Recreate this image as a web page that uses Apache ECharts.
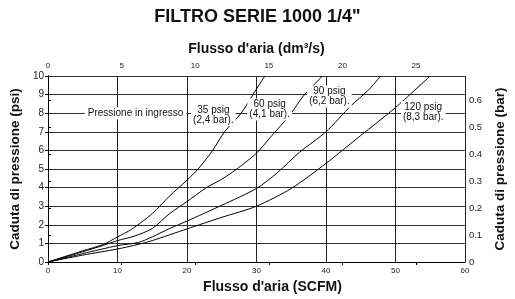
<!DOCTYPE html>
<html>
<head>
<meta charset="utf-8">
<script src="https://cdn.jsdelivr.net/npm/echarts@6/dist/echarts.min.js"></script>
<style>
  html, body { margin: 0; padding: 0; background: #fff; }
  #chart { width: 515px; height: 299px; }
</style>
</head>
<body>
<div id="chart"></div>
<script>
// curve data: flow (SCFM) vs pressure drop (psi)
const flow35 = [0, 5, 8, 10, 12, 15, 17.5, 20, 21.6, 23.7, 25.4, 27.8, 29.5, 31.2];
const drop35 = [0, 0.6, 0.95, 1.35, 1.75, 2.6, 3.55, 4.4, 5, 6, 7, 8, 9, 10];

const flow60 = [0, 5, 8, 10, 12.5, 15, 17.5, 20, 22.8, 25, 27, 30, 32, 34.8, 36.7, 39.5];
const drop60 = [0, 0.55, 0.9, 1.15, 1.4, 1.8, 2.6, 3.25, 4, 4.45, 4.95, 5.85, 6.7, 7.9, 8.9, 10];

const flow90 = [0, 5, 10, 13, 15, 17.5, 20, 25, 30, 33, 36.2, 40, 43.6, 46, 47.9];
const drop90 = [0, 0.45, 0.88, 1.05, 1.35, 1.8, 2.2, 3.05, 3.95, 4.8, 5.9, 7, 8.4, 9.2, 10];

const flow120 = [0, 5, 10, 13, 15, 20, 25, 30, 35, 40, 45, 50, 55];
const drop120 = [0, 0.37, 0.7, 0.95, 1.15, 1.78, 2.4, 3.0, 3.95, 5.3, 6.8, 8.3, 10];

const curveNames = ['35 psig', '60 psig', '90 psig', '120 psig'];
const curveLabels = ['35 psig\n(2,4 bar).', '60 psig\n(4,1 bar).', '90 psig\n(6,2 bar).', '120 psig\n(8,3 bar).'];
// where each label sits, in axis units [SCFM, psi]
const labelAt = [[23.8, 7.9], [31.9, 8.2], [40.5, 8.9], [54, 8.05]];
const inletLabel = 'Pressione in ingresso';
const inletAt = [12.6, 8];

// axis ranges
const scfmMax = 60;
const psiMax = 10;
const dm3sPerScfm = 0.4719474;
const barPerPsi = 0.0689476;

const font = 'Arial, "Liberation Sans", sans-serif';

function pairs(xs, ys) {
  return xs.map(function (x, i) { return [x, ys[i]]; });
}

const flows = [flow35, flow60, flow90, flow120];
const drops = [drop35, drop60, drop90, drop120];

let chart = echarts.init(document.getElementById('chart'));

let series = flows.map(function (f, i) {
  return {
    name: curveNames[i],
    type: 'line',
    xAxisIndex: 0,
    yAxisIndex: 0,
    data: pairs(f, drops[i]),
    smooth: 0.25,
    symbol: 'none',
    lineStyle: { color: '#000', width: 1 },
    z: 3
  };
});

// text labels on top of the grid, white box hides the grid line
let marks = curveLabels.map(function (t, i) {
  return { coord: labelAt[i], label: { formatter: t } };
});
marks.push({ coord: inletAt, label: { formatter: inletLabel, padding: [1, 3] } });

series.push({
  type: 'line',
  data: [],
  symbol: 'none',
  z: 5,
  markPoint: {
    symbol: 'rect',
    symbolSize: 0,
    silent: true,
    label: {
      show: true,
      position: 'inside',
      color: '#111',
      fontFamily: font,
      fontSize: 10,
      lineHeight: 10,
      align: 'center',
      backgroundColor: '#fff',
      padding: [1, 2]
    },
    data: marks
  }
});

let option = {
  animation: false,
  title: {
    text: 'FILTRO SERIE 1000 1/4"',
    left: 'center',
    top: 3,
    textStyle: { fontFamily: font, fontSize: 18, fontWeight: 'bold', color: '#111' }
  },
  grid: { left: 47, right: 48, top: 76, bottom: 37 },
  xAxis: [
    {
      type: 'value',
      position: 'bottom',
      min: 0,
      max: scfmMax,
      interval: 10,
      name: "Flusso d'aria (SCFM)",
      nameLocation: 'middle',
      nameGap: 18,
      nameTextStyle: { fontFamily: font, fontSize: 14, fontWeight: 'bold', color: '#111', padding: [0, 0, 0, 32] },
      axisLine: { lineStyle: { color: '#000', width: 1 } },
      axisTick: { show: false },
      axisLabel: { fontFamily: font, fontSize: 8, color: '#222', margin: 5 },
      splitLine: { show: true, lineStyle: { color: '#222', width: 1 } }
    },
    {
      type: 'value',
      position: 'top',
      min: 0,
      max: scfmMax * dm3sPerScfm,
      interval: 5,
      name: "Flusso d'aria (dm³/s)",
      nameLocation: 'middle',
      nameGap: 20,
      nameTextStyle: { fontFamily: font, fontSize: 14, fontWeight: 'bold', color: '#111' },
      axisLine: { lineStyle: { color: '#000', width: 1 } },
      axisTick: { show: true, inside: true, length: 3, lineStyle: { color: '#000' } },
      axisLabel: { fontFamily: font, fontSize: 8, color: '#222', margin: 6, showMaxLabel: false },
      splitLine: { show: false }
    }
  ],
  yAxis: [
    {
      type: 'value',
      position: 'left',
      min: 0,
      max: psiMax,
      interval: 1,
      name: 'Caduta di pressione (psi)',
      nameLocation: 'middle',
      nameGap: 22,
      nameTextStyle: { fontFamily: font, fontSize: 13.5, fontWeight: 'bold', color: '#111' },
      axisLine: { show: true, lineStyle: { color: '#000', width: 1 } },
      axisTick: { show: true, length: 3, lineStyle: { color: '#000' } },
      axisLabel: { fontFamily: font, fontSize: 10, color: '#222', margin: 4 },
      splitLine: { show: true, lineStyle: { color: '#333', width: 1 } }
    },
    {
      type: 'value',
      position: 'right',
      min: 0,
      max: psiMax * barPerPsi,
      interval: 0.1,
      name: 'Caduta di pressione (bar)',
      nameLocation: 'middle',
      nameGap: 27,
      nameTextStyle: { fontFamily: font, fontSize: 13.5, fontWeight: 'bold', color: '#111' },
      axisLine: { show: true, lineStyle: { color: '#000', width: 1 } },
      axisTick: { show: true, length: 3, lineStyle: { color: '#000' } },
      axisLabel: {
        fontFamily: font, fontSize: 9.5, color: '#222', margin: 4, showMaxLabel: false,
        formatter: function (v) { return String(Math.round(v * 10) / 10); }
      },
      splitLine: { show: false }
    }
  ],
  series: series
};

chart.setOption(option);
</script>
</body>
</html>
